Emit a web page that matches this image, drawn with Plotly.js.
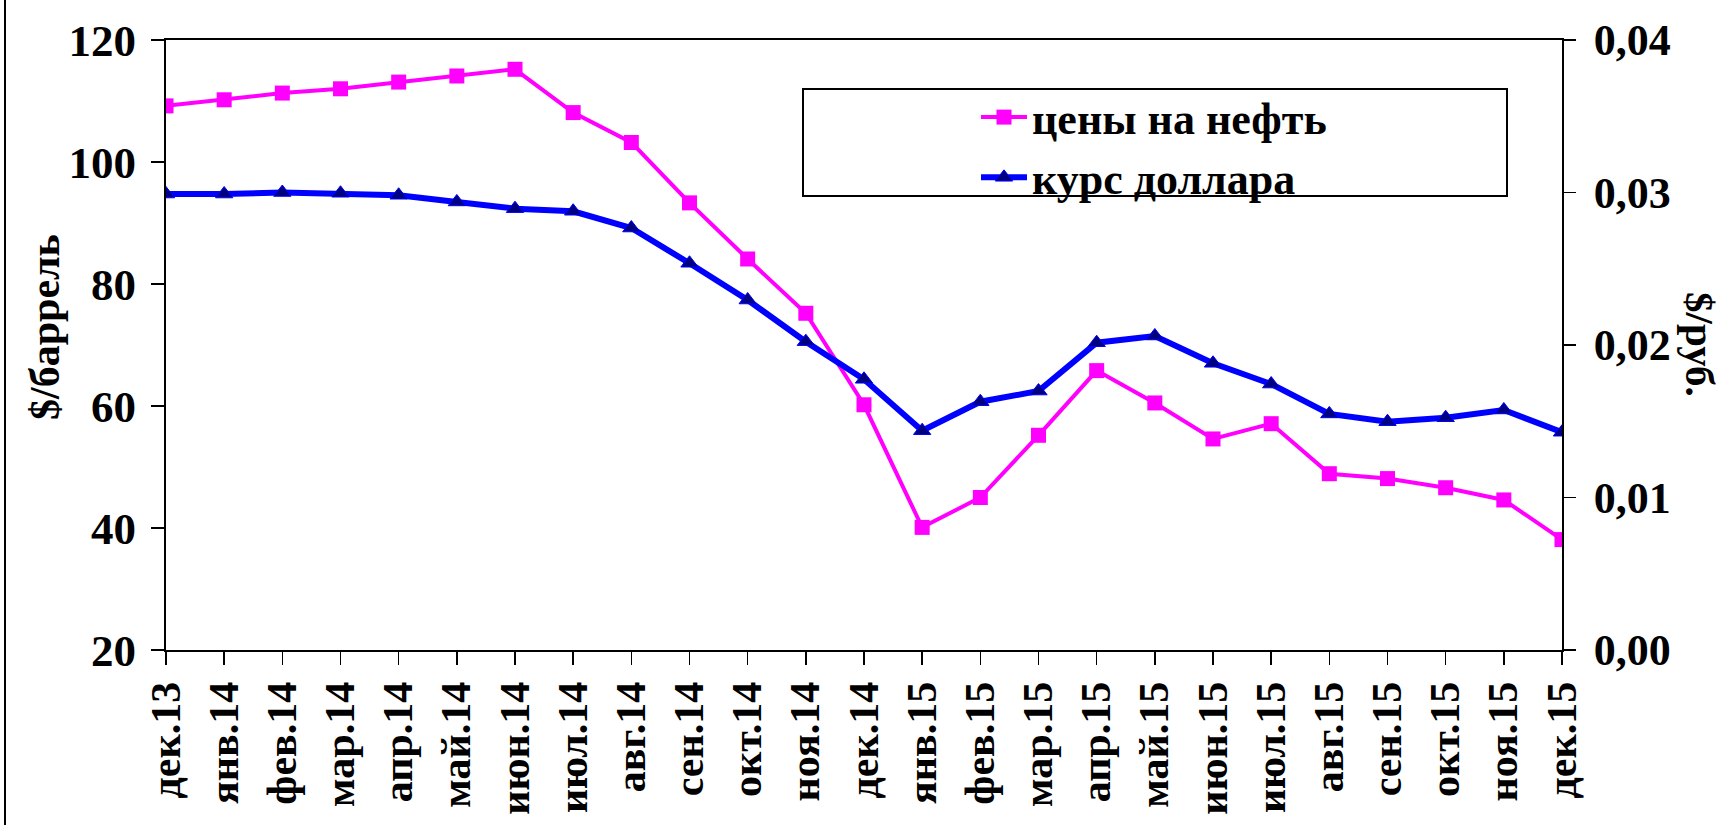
<!DOCTYPE html>
<html>
<head>
<meta charset="utf-8">
<script src="https://cdn.plot.ly/plotly-3.0.1.min.js"></script>
<style>html,body{margin:0;padding:0;background:#fff;}#chart{width:1725px;height:825px;}</style>
</head>
<body>
<div id="chart"></div>
<script>
const months = ['дек.13','янв.14','фев.14','мар.14','апр.14','май.14','июн.14','июл.14','авг.14','сен.14','окт.14','ноя.14','дек.14','янв.15','фев.15','мар.15','апр.15','май.15','июн.15','июл.15','авг.15','сен.15','окт.15','ноя.15','дек.15'];
const oilPrice = [109.2,110.2,111.3,112.0,113.1,114.1,115.2,108.1,103.2,93.3,84.1,75.2,60.2,40.1,45.0,55.2,65.8,60.5,54.6,57.1,48.9,48.1,46.6,44.6,38.1];
const usdRate = [0.0299,0.0299,0.0300,0.02995,0.02982,0.02938,0.02894,0.02877,0.02767,0.02536,0.02295,0.02022,0.01775,0.01438,0.01628,0.01698,0.02015,0.02059,0.0188,0.01744,0.01548,0.01497,0.01523,0.01574,0.01428];
const seriesNames = ['цены на нефть','курс доллара'];
const leftTitle = '$/баррель';
const rightTitle = '$/руб.';

const F = 'Liberation Serif, Times New Roman, serif';
const W = 1725, H = 825, L = 166, R = 163, T = 40, B = 175;
const pw = W - L - R, ph = H - T - B;
const px = v => (v - L) / pw;
const py = v => (H - B - v) / ph;

const traces = [
  {x: months, y: oilPrice, name: seriesNames[0], type: 'scatter', mode: 'lines+markers',
   line: {color: '#FF00FF', width: 4}, marker: {symbol: 'square', size: 15, color: '#FF00FF'},
   xaxis: 'x', yaxis: 'y', hoverinfo: 'skip'},
  {x: months, y: usdRate, name: seriesNames[1], type: 'scatter', mode: 'lines+markers',
   line: {color: '#0000FF', width: 6}, marker: {symbol: 'triangle-up', size: 15, color: '#000080', line: {color: '#0000FF', width: 1}},
   xaxis: 'x', yaxis: 'y2', hoverinfo: 'skip'}
];

const layout = {
  width: W, height: H,
  margin: {l: L, r: R, t: T, b: B, pad: 0},
  paper_bgcolor: '#fff', plot_bgcolor: '#fff',
  separators: ', ',
  showlegend: true,
  font: {family: F, color: '#000'},
  xaxis: {type: 'category', range: [0, months.length - 1], showgrid: false, zeroline: false,
    showline: true, linecolor: '#000', linewidth: 2, mirror: true,
    ticks: 'outside', ticklen: 13, tickwidth: 1.5, tickcolor: '#000', dtick: 1,
    tickangle: -90, tickfont: {family: F, size: 42, color: '#000', weight: 'bold'}, ticklabelstandoff: 0},
  xaxis3: {type: 'linear', range: [0, months.length - 1], overlaying: 'x', anchor: 'y', side: 'bottom',
    showgrid: false, zeroline: false, showline: false, ticks: 'inside', ticklen: 12, tickwidth: 1.5, tickcolor: '#000',
    dtick: 1, tick0: 0, showticklabels: false},
  yaxis: {range: [20, 120], dtick: 20, showgrid: false, zeroline: false,
    showline: true, linecolor: '#000', linewidth: 2,
    ticks: 'outside', ticklen: 13, tickwidth: 1.5, tickcolor: '#000',
    tickfont: {family: F, size: 45, color: '#000', weight: 'bold'}, ticklabelstandoff: 6},
  yaxis3: {range: [20, 120], dtick: 20, overlaying: 'y', anchor: 'x', side: 'left', showgrid: false, zeroline: false,
    showline: false, ticks: 'inside', ticklen: 13, tickwidth: 1.5, tickcolor: '#000', showticklabels: false},
  yaxis2: {range: [0, 0.04], dtick: 0.01, tickformat: '.2f', overlaying: 'y', side: 'right', anchor: 'x',
    showgrid: false, zeroline: false, showline: true, linecolor: '#000', linewidth: 2,
    ticks: 'outside', ticklen: 12, tickwidth: 1.5, tickcolor: '#000',
    tickfont: {family: F, size: 44, color: '#000', weight: 'bold'}, ticklabelstandoff: 9},
  yaxis4: {range: [0, 0.04], dtick: 0.01, overlaying: 'y', side: 'right', anchor: 'x', showgrid: false, zeroline: false,
    showline: false, ticks: 'inside', ticklen: 13, tickwidth: 1.5, tickcolor: '#000', showticklabels: false},
  legend: {x: px(976), xanchor: 'left', y: py(82), yanchor: 'top', bgcolor: 'rgba(0,0,0,0)', borderwidth: 0,
    font: {family: F, size: 44, color: '#000', weight: 'bold'}, itemwidth: 46, tracegroupgap: 0},
  shapes: [
    {type: 'rect', xref: 'paper', yref: 'paper', x0: px(803), x1: px(1507), y0: py(89), y1: py(196),
     line: {color: '#000', width: 2}, fillcolor: 'rgba(0,0,0,0)', layer: 'above'},
    {type: 'line', xref: 'paper', yref: 'paper', x0: px(5), x1: px(5), y0: py(0), y1: py(825),
     line: {color: '#000', width: 2}}
  ],
  annotations: [
    {text: leftTitle, xref: 'paper', yref: 'paper', x: px(45), y: py(327), textangle: -90, showarrow: false,
     font: {family: F, size: 42, color: '#000', weight: 'bold'}, xanchor: 'center', yanchor: 'middle'},
    {text: rightTitle, xref: 'paper', yref: 'paper', x: px(1700), y: py(345), textangle: 90, showarrow: false,
     font: {family: F, size: 41, color: '#000', weight: 'bold'}, xanchor: 'center', yanchor: 'middle'}
  ]
};

Plotly.newPlot('chart', traces, layout, {staticPlot: true, displayModeBar: false});
</script>
</body>
</html>
